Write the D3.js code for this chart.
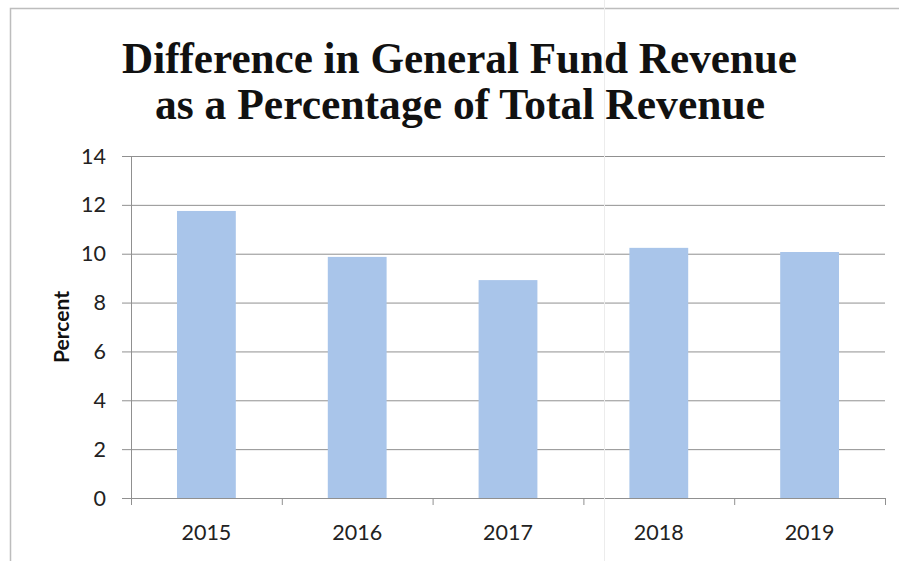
<!DOCTYPE html>
<html>
<head>
<meta charset="utf-8">
<script src="https://cdn.jsdelivr.net/npm/d3@7"></script>
<style>
  html, body { margin: 0; padding: 0; background: #fff; }
  svg { display: block; }
</style>
</head>
<body>
<svg id="chart" width="899" height="561"></svg>
<script>
// Chart data
const years = ["2015", "2016", "2017", "2018", "2019"];
const percentValues = [11.75, 9.87, 8.92, 10.24, 10.07];
const yTickValues = [0, 2, 4, 6, 8, 10, 12, 14];
const titleLines = ["Difference in General Fund Revenue", "as a Percentage of Total Revenue"];
const yAxisTitle = "Percent";

const svg = d3.select("#chart");
const W = 899, H = 561;
const margin = { left: 131, right: 14, top: 156, bottom: 63 };
const plotW = W - margin.left - margin.right;
const plotH = H - margin.top - margin.bottom;

svg.append("rect").attr("width", W).attr("height", H).attr("fill", "#fff");

// Outer frame (top and left edges)
svg.append("path")
  .attr("d", "M10.5,561 L10.5,8.5 L899,8.5")
  .attr("fill", "none").attr("stroke", "#bdbdbd").attr("stroke-width", 1.5);

const x = d3.scaleBand().domain(years).range([margin.left, margin.left + plotW]).padding(0);
const y = d3.scaleLinear().domain([0, 14]).range([margin.top + plotH, margin.top]);

// Horizontal gridlines with short left tick marks
const yAxis = d3.axisLeft(y).tickValues(yTickValues).tickSize(-plotW).tickPadding(0).tickFormat("");
const gy = svg.append("g").attr("transform", `translate(${margin.left},0)`).call(yAxis);
gy.select(".domain").remove();
gy.selectAll(".tick line").attr("stroke", "#909090").attr("stroke-width", 1)
  .attr("x1", -9);

// Y tick labels
svg.append("g").selectAll("text").data(yTickValues).join("text")
  .attr("x", 106).attr("y", d => y(d) + 7.5)
  .attr("text-anchor", "end")
  .attr("font-family", "Lato, 'Open Sans', sans-serif")
  .attr("font-size", 21.5).attr("fill", "#222")
  .text(d => d);

// Vertical axis line
svg.append("line")
  .attr("x1", margin.left + 0.5).attr("x2", margin.left + 0.5)
  .attr("y1", y(14)).attr("y2", y(0))
  .attr("stroke", "#909090").attr("stroke-width", 1);

// Bars
const barW = x.bandwidth() * 0.39;
svg.append("g").selectAll("rect").data(years).join("rect")
  .attr("x", d => x(d) + (x.bandwidth() - barW) / 2)
  .attr("width", barW)
  .attr("y", (d, i) => y(percentValues[i]))
  .attr("height", (d, i) => y(0) - y(percentValues[i]))
  .attr("fill", "#a9c5ea");

// X axis with tick marks at category boundaries
const gx = svg.append("g").attr("transform", `translate(0,${y(0)})`)
  .call(d3.axisBottom(x).tickSize(0).tickFormat(""));
gx.select(".domain").attr("stroke", "#909090").attr("stroke-width", 1);
svg.append("g").selectAll("line").data(years.concat(["end"])).join("line")
  .attr("x1", (d, i) => margin.left + i * x.step() + 0.5)
  .attr("x2", (d, i) => margin.left + i * x.step() + 0.5)
  .attr("y1", y(0)).attr("y2", y(0) + 7)
  .attr("stroke", "#909090").attr("stroke-width", 1);

// X labels
svg.append("g").selectAll("text").data(years).join("text")
  .attr("x", d => x(d) + x.bandwidth() / 2)
  .attr("y", y(0) + 42)
  .attr("text-anchor", "middle")
  .attr("font-family", "Lato, 'Open Sans', sans-serif")
  .attr("font-size", 21.5).attr("fill", "#222")
  .text(d => d);

// Y axis title
svg.append("text")
  .attr("transform", `translate(69,${(y(0) + y(14)) / 2}) rotate(-90)`)
  .attr("text-anchor", "middle")
  .attr("font-family", "Lato, 'Open Sans', sans-serif")
  .attr("font-weight", "bold")
  .attr("font-size", 21).attr("fill", "#111")
  .text(yAxisTitle);

// Title
const titleSpec = [
  { cx: 459.5, y: 73, len: 675 },
  { cx: 460, y: 119, len: 610 }
];
svg.append("g").selectAll("text").data(titleLines).join("text")
  .attr("x", (d, i) => titleSpec[i].cx)
  .attr("y", (d, i) => titleSpec[i].y)
  .attr("text-anchor", "middle")
  .attr("font-family", "'Liberation Serif', 'DejaVu Serif', serif")
  .attr("font-weight", "bold")
  .attr("font-size", 43.5).attr("fill", "#111")
  .attr("textLength", (d, i) => titleSpec[i].len)
  .attr("lengthAdjust", "spacingAndGlyphs")
  .text(d => d);

// Faint fold line in the page
svg.append("line")
  .attr("x1", 604.5).attr("x2", 604.5).attr("y1", 0).attr("y2", H)
  .attr("stroke", "#ececec").attr("stroke-width", 1);
</script>
</body>
</html>
